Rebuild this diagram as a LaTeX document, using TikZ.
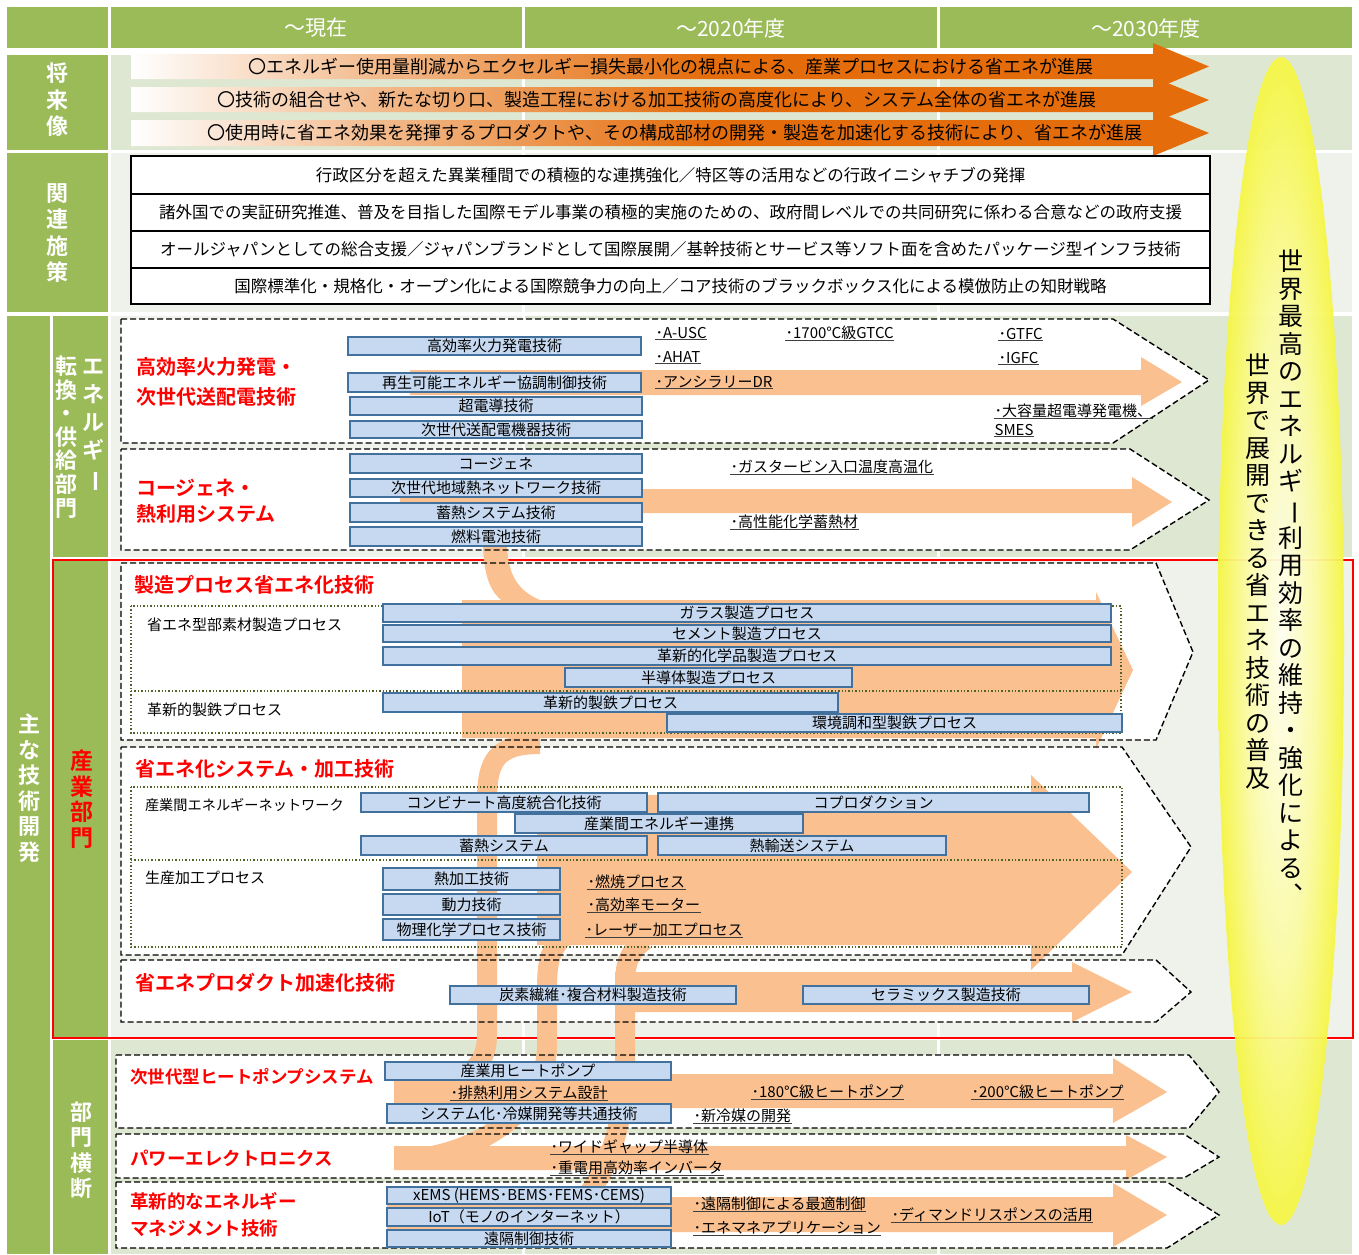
\documentclass[tikz,border=0pt]{standalone}
\usepackage{fontspec}
\setmainfont{Noto Sans CJK JP}[BoldFont={* Bold}]
\definecolor{hgreen}{HTML}{9BBB59}
\definecolor{bggreen}{HTML}{DEE7D1}
\definecolor{bglight}{HTML}{EFF2EA}
\definecolor{futorange}{HTML}{E46C0A}
\definecolor{floworange}{HTML}{FAC090}
\definecolor{barfill}{HTML}{C6D9F1}
\definecolor{barline}{HTML}{41719C}
\definecolor{dotolive}{HTML}{4F6228}
\definecolor{ylight}{HTML}{FFFFF2}
\definecolor{ydark}{HTML}{F6F645}
\definecolor{ulcol}{HTML}{404040}
\pgfdeclarehorizontalshading{futshade}{100bp}{color(0bp)=(white); color(25bp)=(white); color(36bp)=(futorange!45!white); color(52bp)=(futorange); color(100bp)=(futorange)}
\pgfdeclareradialshading{ellshade}{\pgfpoint{0bp}{0bp}}{color(0bp)=(ylight); color(14bp)=(ydark!45!ylight); color(25bp)=(ydark); color(50bp)=(ydark)}
\newcommand\chobar{\rotatebox[origin=c]{-90}{ー}}
\newcommand\tbarnode[6]{\node[tbar, minimum width={(#3-#2)*1pt}, minimum height={(#5-#4)*1pt}] (#1) at ({(#2+#3)/2},{(#4+#5)/2}) {#6};}
\begin{document}
\begin{tikzpicture}[x=1pt,y=-1pt,
  every node/.style={inner sep=0pt, outer sep=0pt},
  hdr/.style={text=white, font=\fontsize{21}{24}\selectfont},
  vlab/.style={text=white, font=\bfseries\fontsize{22}{26.5}\selectfont, align=center},
  futtext/.style={font=\fontsize{18}{20}\selectfont},
  polbox/.style={draw=black, line width=1.3pt, fill=white, minimum width=1079pt, minimum height=37pt, font=\fontsize{16.5}{19}\selectfont},
  title/.style={text=red, font=\bfseries\fontsize{20}{22}\selectfont, anchor=west},
  tbar/.style={draw=barline, line width=1.8pt, fill=barfill, font=\fontsize{15}{17}\selectfont},
  sublab/.style={anchor=west, font=\fontsize{15}{17}\selectfont},
  item/.style={anchor=west, font=\fontsize{15}{17}\selectfont, inner sep=0.6pt,
    append after command={(\tikzlastnode.south west) edge[draw=ulcol, line width=1.1pt] (\tikzlastnode.south east)}},
  sect/.style={draw=black, line width=1.4pt, dash pattern=on 6pt off 3pt},
  dotbox/.style={draw=dotolive, line width=1.4pt, dotted},
  flow/.style={fill=floworange},
  flowline/.style={draw=floworange, line width=20pt},
  ellt/.style={font=\fontsize{25}{27.5}\selectfont, align=center, anchor=north}
]
\useasboundingbox (0,0) rectangle (1359,1254);
\fill[white] (0,0) rectangle (1359,1254);

% ---------- backgrounds ----------
\fill[hgreen] (7,7) rectangle (1352,48);
\fill[hgreen] (7,55) rectangle (108,150);
\fill[hgreen] (7,153) rectangle (108,312);
\fill[hgreen] (7,316) rectangle (50,1254);
\fill[hgreen] (53,316) rectangle (108,557);
\fill[hgreen] (53,560) rectangle (108,1037);
\fill[hgreen] (53,1040) rectangle (108,1254);
\fill[bggreen] (111,55) rectangle (1352,150);
\fill[bglight] (111,153) rectangle (1352,312);
\fill[bggreen] (111,316) rectangle (1352,557);
\fill[bglight] (111,316) rectangle (522,557);
\fill[bglight] (111,560) rectangle (1352,1037);
\fill[bggreen] (111,1040) rectangle (1352,1254);
\draw[white, line width=3pt] (109.5,7) -- (109.5,1254) (523.5,7) -- (523.5,1254) (938.5,7) -- (938.5,1254);

% ---------- header ----------
\node[hdr] (h1) at (316,28) {～現在};
\node[hdr] (h2) at (731,28) {～2020年度};
\node[hdr] (h3) at (1146,28) {～2030年度};

% ---------- left labels ----------
\node[vlab] (l1) at (57,100) {将\\来\\像};
\node[vlab] (l2) at (57,233) {関\\連\\施\\策};
\node[vlab, font=\bfseries\fontsize{22}{23.6}\selectfont] (l3) at (66,437) {転\\換\\・\\供\\給\\部\\門};
\node[vlab, font=\bfseries\fontsize{22}{28}\selectfont] (l4) at (93,426) {エ\\ネ\\ル\\ギ\\\chobar};
\node[vlab, font=\bfseries\fontsize{22}{25.5}\selectfont] (l5) at (29,788) {主\\な\\技\\術\\開\\発};
\node[vlab, text=red, font=\bfseries\fontsize{23}{25.5}\selectfont] (l6) at (82,799) {産\\業\\部\\門};
\node[vlab, font=\bfseries\fontsize{22}{25.5}\selectfont] (l7) at (81,1150) {部\\門\\横\\断};

% ---------- future arrows ----------
\shade[shading=futshade] (131,54) -- (1153,54) -- (1153,43) -- (1209,66.5) -- (1153,90) -- (1153,79) -- (131,79) -- cycle;
\shade[shading=futshade] (131,87) -- (1153,87) -- (1153,77) -- (1209,100) -- (1153,123) -- (1153,112) -- (131,112) -- cycle;
\shade[shading=futshade] (131,120) -- (1153,120) -- (1153,110) -- (1209,133) -- (1153,156) -- (1153,146) -- (131,146) -- cycle;
\node[futtext] (f1) at (671,67) {〇エネルギー使用量削減からエクセルギー損失最小化の視点による、産業プロセスにおける省エネが進展};
\node[futtext] (f2) at (657,100) {〇技術の組合せや、新たな切り口、製造工程における加工技術の高度化により、システム全体の省エネが進展};
\node[futtext] (f3) at (675,133) {〇使用時に省エネ効果を発揮するプロダクトや、その構成部材の開発・製造を加速化する技術により、省エネが進展};

% ---------- policy boxes ----------
\node[polbox, minimum height=38pt] (p1) at (670.5,175) {行政区分を超えた異業種間での積極的な連携強化／特区等の活用などの行政イニシャチブの発揮};
\node[polbox] (p2) at (670.5,212.5) {諸外国での実証研究推進、普及を目指した国際モデル事業の積極的実施のための、政府間レベルでの共同研究に係わる合意などの政府支援};
\node[polbox] (p3) at (670.5,249.5) {オールジャパンとしての総合支援／ジャパンブランドとして国際展開／基幹技術とサービス等ソフト面を含めたパッケージ型インフラ技術};
\node[polbox, minimum height=36pt] (p4) at (670.5,286) {国際標準化・規格化・オープン化による国際競争力の向上／コア技術のブラックボックス化による模倣防止の知財戦略};

% ---------- red frame ----------
\draw[red, line width=1.8pt] (53,560) rectangle (1353,1038);

% ---------- section shapes ----------
\def\shpA{(121,319) -- (1113,319) -- (1209,380) -- (1113,443) -- (121,443) -- cycle}
\def\shpB{(121,449) -- (1130,449) -- (1209,500) -- (1130,550) -- (121,550) -- cycle}
\def\shpC{(121,563) -- (1156,563) -- (1193,652) -- (1156,740) -- (121,740) -- cycle}
\def\shpD{(121,747) -- (1122,747) -- (1191,847) -- (1122,955) -- (121,955) -- cycle}
\def\shpE{(121,960) -- (1156,960) -- (1191,992) -- (1156,1022) -- (121,1022) -- cycle}
\def\shpF{(116,1055) -- (1189,1055) -- (1219,1092) -- (1189,1128) -- (116,1128) -- cycle}
\def\shpG{(116,1134) -- (1184,1134) -- (1219,1157) -- (1184,1178) -- (116,1178) -- cycle}
\def\shpH{(116,1182) -- (1167,1182) -- (1219,1215) -- (1167,1248) -- (116,1248) -- cycle}
\fill[white] \shpA; \fill[white] \shpB; \fill[white] \shpC; \fill[white] \shpD;
\fill[white] \shpE; \fill[white] \shpF; \fill[white] \shpG; \fill[white] \shpH;

% ---------- light orange flows ----------
\fill[flow] (410,370) -- (1141,370) -- (1141,357) -- (1182,382) -- (1141,406) -- (1141,395) -- (410,395) -- cycle;
\fill[flow] (400,489) -- (1132,489) -- (1132,477) -- (1172,502) -- (1132,527) -- (1132,513) -- (400,513) -- cycle;
\fill[flow] (483,545) .. controls (484,580) and (492,594) .. (505,603) -- (548,603) .. controls (520,594) and (508,578) .. (507,545) -- cycle;
\fill[flow] (462,600) -- (1096,600) -- (1096,592) -- (1133,670) -- (1096,749) -- (1096,738) -- (462,738) -- cycle;
\draw[flowline] (540,744) .. controls (497,744) and (487,760) .. (487,800) -- (487,1035) .. controls (487,1075) and (455,1085) .. (405,1092);
\fill[flow] (537,795) -- (1031,795) -- (1031,775) -- (1132,872) -- (1031,970) -- (1031,945) -- (537,945) -- cycle;
\draw[flowline] (565,935) .. controls (550,950) and (547,960) .. (547,990) -- (547,1045) .. controls (547,1110) and (480,1150) .. (420,1158);
\fill[flow] (615,972) -- (1072,972) -- (1072,962) -- (1132,992) -- (1072,1022) -- (1072,1012) -- (615,1012) -- cycle;
\draw[flowline] (645,940) .. controls (628,952) and (625,965) .. (625,985) -- (625,1060) .. controls (625,1140) and (600,1180) .. (580,1205);
\fill[flow] (394,1074) -- (1113,1074) -- (1113,1058) -- (1167,1092) -- (1113,1123) -- (1113,1108) -- (394,1108) -- cycle;
\fill[flow] (394,1146) -- (1126,1146) -- (1126,1135) -- (1167,1157) -- (1126,1180) -- (1126,1170) -- (394,1170) -- cycle;
\fill[flow] (387,1197) -- (1113,1197) -- (1113,1183) -- (1167,1215) -- (1113,1247) -- (1113,1232) -- (387,1232) -- cycle;

% ---------- dashed outlines ----------
\draw[sect] \shpA; \draw[sect] \shpB; \draw[sect] \shpC; \draw[sect] \shpD;
\draw[sect] \shpE; \draw[sect] \shpF; \draw[sect] \shpG; \draw[sect] \shpH;

% ---------- dotted groups ----------
\draw[dotbox] (131,606) rectangle (1121,733);
\draw[dotbox] (131,691) -- (1121,691);
\draw[dotbox] (131,787) rectangle (1122,947);
\draw[dotbox] (131,860) -- (1122,860);

% ---------- titles ----------
\node[title] (tA1) at (136,367) {高効率火力発電・};
\node[title] (tA2) at (136,397) {次世代送配電技術};
\node[title] (tB1) at (136,488) {コージェネ・};
\node[title] (tB2) at (136,514) {熱利用システム};
\node[title] (tC) at (134,585) {製造プロセス省エネ化技術};
\node[title] (tD) at (135,769) {省エネ化システム・加工技術};
\node[title] (tE) at (135,983) {省エネプロダクト加速化技術};
\node[title, font=\bfseries\fontsize{17.5}{20}\selectfont] (tF) at (130,1077) {次世代型ヒートポンプシステム};
\node[title, font=\bfseries\fontsize{18.5}{20}\selectfont] (tG) at (130,1158) {パワーエレクトロニクス};
\node[title, font=\bfseries\fontsize{18.5}{20}\selectfont] (tH1) at (130,1201) {革新的なエネルギー};
\node[title, font=\bfseries\fontsize{18.5}{20}\selectfont] (tH2) at (130,1228) {マネジメント技術};

% ---------- sub labels ----------
\node[sublab] (s1) at (147,625) {省エネ型部素材製造プロセス};
\node[sublab] (s2) at (147,710) {革新的製鉄プロセス};
\node[sublab, font=\fontsize{14.2}{17}\selectfont] (s3) at (145,805) {産業間エネルギーネットワーク};
\node[sublab] (s4) at (145,878) {生産加工プロセス};

% ---------- bars ----------
\tbarnode{hA}{348}{641}{337}{355}{高効率火力発電技術}
\tbarnode{hB}{348}{641}{373}{392}{再生可能エネルギー協調制御技術}
\tbarnode{hC}{350}{642}{397}{415}{超電導技術}
\tbarnode{hD}{350}{642}{421}{438}{次世代送配電機器技術}
\tbarnode{cA}{350}{642}{454}{473}{コージェネ}
\tbarnode{cB}{350}{642}{479}{497}{次世代地域熱ネットワーク技術}
\tbarnode{cC}{350}{642}{503}{522}{蓄熱システム技術}
\tbarnode{cD}{350}{642}{527}{546}{燃料電池技術}
\tbarnode{mA}{383}{1111}{604}{622}{ガラス製造プロセス}
\tbarnode{mB}{383}{1111}{625}{642}{セメント製造プロセス}
\tbarnode{mC}{383}{1111}{647}{665}{革新的化学品製造プロセス}
\tbarnode{mD}{565}{852}{668}{687}{半導体製造プロセス}
\tbarnode{mE}{383}{838}{693}{712}{革新的製鉄プロセス}
\tbarnode{mF}{667}{1122}{714}{732}{環境調和型製鉄プロセス}
\tbarnode{sA}{361}{647}{793}{812}{コンビナート高度統合化技術}
\tbarnode{sB}{658}{1089}{793}{812}{コプロダクション}
\tbarnode{sC}{515}{803}{814}{833}{産業間エネルギー連携}
\tbarnode{sD}{361}{647}{836}{855}{蓄熱システム}
\tbarnode{sE}{658}{946}{836}{855}{熱輸送システム}
\tbarnode{sF}{383}{560}{868}{890}{熱加工技術}
\tbarnode{sG}{383}{560}{894}{915}{動力技術}
\tbarnode{sH}{383}{560}{919}{940}{物理化学プロセス技術}
\tbarnode{pA}{450}{736}{986}{1004}{炭素繊維･複合材料製造技術}
\tbarnode{pB}{803}{1089}{986}{1004}{セラミックス製造技術}
\tbarnode{fA}{385}{671}{1062}{1080}{産業用ヒートポンプ}
\tbarnode{fB}{387}{671}{1104}{1123}{システム化･冷媒開発等共通技術}
\tbarnode{eA}{387}{671}{1187}{1204}{xEMS (HEMS･BEMS･FEMS･CEMS)}
\tbarnode{eB}{387}{671}{1208}{1226}{IoT（モノのインターネット）}
\tbarnode{eC}{387}{671}{1230}{1247}{遠隔制御技術}

% ---------- underlined items ----------
\node[item] (i1) at (655,333) {･A-USC};
\node[item] (i2) at (785,333) {･1700℃級GTCC};
\node[item] (i3) at (998,334) {･GTFC};
\node[item] (i4) at (655,357) {･AHAT};
\node[item] (i5) at (998,358) {･IGFC};
\node[item] (i6) at (655,382) {･アンシラリーDR};
\node[item] (i7) at (994,411) {･大容量超電導発電機、};
\node[item] (i8) at (994,430) {SMES};
\node[item] (i9) at (730,467) {･ガスタービン入口温度高温化};
\node[item] (i10) at (730,522) {･高性能化学蓄熱材};
\node[item] (i11) at (587,882) {･燃焼プロセス};
\node[item] (i12) at (587,905) {･高効率モーター};
\node[item] (i13) at (585,930) {･レーザー加工プロセス};
\node[item] (i14) at (450,1093) {･排熱利用システム設計};
\node[item] (i15) at (751,1092) {･180℃級ヒートポンプ};
\node[item] (i16) at (971,1092) {･200℃級ヒートポンプ};
\node[item] (i17) at (693,1116) {･新冷媒の開発};
\node[item] (i18) at (550,1147) {･ワイドギャップ半導体};
\node[item] (i19) at (550,1168) {･重電用高効率インバータ};
\node[item] (i20) at (693,1204) {･遠隔制御による最適制御};
\node[item] (i21) at (693,1228) {･エネマネアプリケーション};
\node[item] (i22) at (891,1215) {･ディマンドリスポンスの活用};

% ---------- yellow ellipse ----------
\shade[shading=ellshade, opacity=0.95] (1281,641) ellipse [x radius=63, y radius=584];
\node[ellt] (el1) at (1291,250) {世\\界\\最\\高\\の\\エ\\ネ\\ル\\ギ\\\chobar\\利\\用\\効\\率\\の\\維\\持\\・\\強\\化\\に\\よ\\る\\︑};
\node[ellt] (el2) at (1258,354) {世\\界\\で\\展\\開\\で\\き\\る\\省\\エ\\ネ\\技\\術\\の\\普\\及};
\end{tikzpicture}
\end{document}
